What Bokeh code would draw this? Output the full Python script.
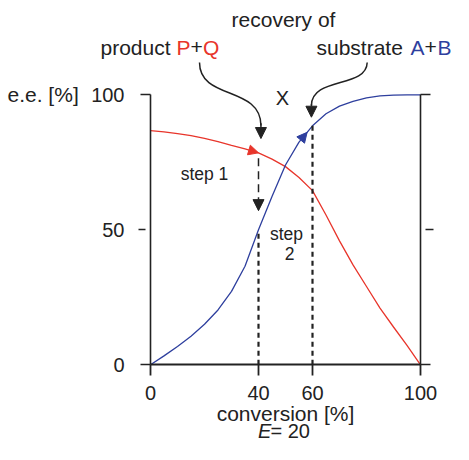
import numpy as np
from bokeh.plotting import figure
from bokeh.models import Range1d, LinearAxis, FixedTicker, Arrow, NormalHead
from bokeh.core.properties import value
from bokeh.embed import file_html
from bokeh.resources import INLINE

# ---- data ----
conversion = [0, 5, 10, 15, 20, 25, 30, 35, 40, 45, 50, 55, 60, 65, 70, 75, 80, 85, 90, 95, 100]
ee_product = [86.7, 86.3, 85.6, 84.9, 83.9, 82.7, 81.3, 80.0, 78.5, 76.2, 73.4, 69.4, 64.5,
              55.5, 45.9, 37.0, 29.0, 21.0, 14.0, 7.2, 0.0]
ee_substrate = [0.0, 3.3, 6.8, 10.6, 15.0, 20.3, 27.2, 36.5, 50.0, 62.3, 74.0, 82.5, 88.5,
                93.0, 95.8, 97.6, 98.9, 99.6, 99.9, 100.0, 100.0]
x_ticks = [0, 40, 60, 100]
y_ticks_end = [0, 100]
y_ticks_mid = [50]
step_stops = [40, 60]

RED = "#e8352b"
BLUE = "#2e3f9e"
INK = "#222222"
FONT = "Liberation Sans"

W, H = 453, 444
SC = 2.7                 # pixels per data unit
X0PX, Y0PX = 150, 364.3  # where data (0, 0) sits in the canvas

p = figure(width=W, height=H, output_backend="svg", toolbar_location=None,
           x_range=Range1d(-X0PX / SC, (W - X0PX) / SC),
           y_range=Range1d(-(H - Y0PX) / SC, Y0PX / SC),
           x_axis_location=None, y_axis_location=None, min_border=0,
           outline_line_color=None, background_fill_color="white",
           border_fill_color="white")
p.grid.visible = False


def style_axis(ax, width=1.8):
    ax.axis_line_color = INK
    ax.axis_line_width = width
    ax.major_tick_line_color = INK
    ax.major_tick_line_width = width
    ax.minor_tick_line_color = None
    ax.major_label_text_font = FONT
    ax.major_label_text_font_size = "20px"
    ax.major_label_text_color = INK


# bottom axis
xa = LinearAxis(fixed_location=0, ticker=FixedTicker(ticks=x_ticks), bounds=(0, 100),
                major_tick_in=0, major_tick_out=11, major_label_standoff=10)
style_axis(xa)
p.add_layout(xa, "below")

# left axis (ends) + detached middle tick
ya = LinearAxis(fixed_location=0, ticker=FixedTicker(ticks=y_ticks_end), bounds=(0, 100),
                major_tick_in=0, major_tick_out=10, major_label_standoff=16)
style_axis(ya, 1.6)
p.add_layout(ya, "left")
yb = LinearAxis(fixed_location=0, ticker=FixedTicker(ticks=y_ticks_mid),
                major_tick_in=-5, major_tick_out=12, major_label_standoff=14)
style_axis(yb, 1.6)
yb.axis_line_color = None
p.add_layout(yb, "left")

# right axis (no labels)
ra = LinearAxis(fixed_location=100, ticker=FixedTicker(ticks=y_ticks_end), bounds=(0, 100),
                major_tick_in=0, major_tick_out=10,
                major_label_overrides={t: "" for t in y_ticks_end})
style_axis(ra, 1.6)
p.add_layout(ra, "right")
rb = LinearAxis(fixed_location=100, ticker=FixedTicker(ticks=y_ticks_mid),
                major_tick_in=-5, major_tick_out=13,
                major_label_overrides={t: "" for t in y_ticks_mid})
style_axis(rb, 1.6)
rb.axis_line_color = None
p.add_layout(rb, "right")

# curves
p.line(conversion, ee_product, line_color=RED, line_width=1.3)
p.line(conversion, ee_substrate, line_color=BLUE, line_width=1.3)

# arrowheads riding on the curves
rx1, rx2 = 36.0, 40.0
p.add_layout(Arrow(x_start=rx1, y_start=float(np.interp(rx1, conversion, ee_product)),
                   x_end=rx2, y_end=float(np.interp(rx2, conversion, ee_product)),
                   line_color=None,
                   end=NormalHead(size=10, fill_color=RED, line_color=RED, line_width=1)))
bx1, bx2 = 55.5, 58.0
p.add_layout(Arrow(x_start=bx1, y_start=float(np.interp(bx1, conversion, ee_substrate)),
                   x_end=bx2, y_end=float(np.interp(bx2, conversion, ee_substrate)),
                   line_color=None,
                   end=NormalHead(size=10, fill_color=BLUE, line_color=BLUE, line_width=1)))

# dashed drop lines at the two stops
p.segment(x0=step_stops, y0=[0, 0], x1=step_stops,
          y1=[float(np.interp(s, conversion, ee_substrate)) for s in step_stops],
          line_color=INK, line_width=2.2, line_dash="5 4")

# step 1 dashed arrow
p.add_layout(Arrow(x_start=40, y_start=76.5, x_end=40, y_end=57.1,
                   line_color=INK, line_width=1.5, line_dash="8 5",
                   end=NormalHead(size=11, fill_color=INK, line_color=INK, line_width=1)))

# curved pointer arrows from the top labels
p.bezier(x0=[18.15, 80.26], y0=[111.96, 111.96],
         x1=[40.9, 59.6], y1=[88.6, 96.0],
         cx0=[18.15, 80.0], cy0=[97.9, 102.3],
         cx1=[40.9, 59.6], cy1=[103.4, 106.8],
         line_color=INK, line_width=1.5)
p.add_layout(Arrow(x_start=40.9, y_start=89.5, x_end=40.9, y_end=83.8,
                   line_color=INK, line_width=1.5,
                   end=NormalHead(size=11, fill_color=INK, line_color=INK, line_width=1)))
p.add_layout(Arrow(x_start=59.6, y_start=96.5, x_end=59.6, y_end=91.7,
                   line_color=INK, line_width=1.5,
                   end=NormalHead(size=11, fill_color=INK, line_color=INK, line_width=1)))


# texts
def txt(x, y, s, size="21px", color=INK, align="left", baseline="alphabetic", style="normal"):
    p.text(x=[x], y=[y], text=[s], text_font=value(FONT), text_font_size=size,
           text_color=color, text_align=align, text_baseline=baseline,
           text_font_style=style)


txt(49.26, 128.07, "recovery of", align="center")
txt(-18.52, 117.7, "product")
txt(9.63, 117.7, "P", color=RED)
txt(14.81, 117.7, "+")
txt(19.44, 117.7, "Q", color=RED)
txt(61.48, 117.7, "substrate")
txt(96.30, 117.7, "A", color=BLUE)
txt(101.48, 117.7, "+")
txt(106.30, 117.7, "B", color=BLUE)
txt(-52.96, 100, "e.e. [%]", baseline="middle")
txt(48.9, 99.0, "X", size="20px", align="center", baseline="middle")
txt(20.0, 70.85, "step 1", size="17.5px", align="center", baseline="middle")
txt(50.37, 48.26, "step", size="17.5px", align="center", baseline="middle")
txt(51.48, 41.22, "2", size="17.5px", align="center", baseline="middle")
txt(50.0, -18.2, "conversion [%]", align="center")
txt(39.8, -24.4, "E", size="20px", style="italic")
txt(44.44, -24.4, "= 20", size="20px")

open("out.html", "w").write(file_html(p, INLINE))
